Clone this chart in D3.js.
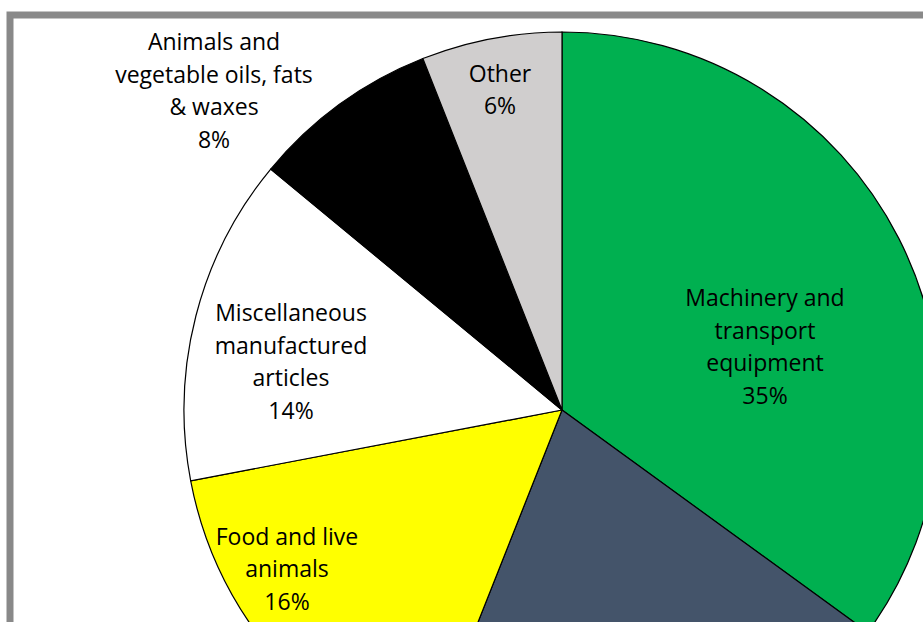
<!DOCTYPE html>
<html>
<head>
<meta charset="utf-8">
<script src="https://cdn.jsdelivr.net/npm/d3@7"></script>
<style>
  body { margin: 0; background: #fff; }
  svg { display: block; }
</style>
</head>
<body>
<svg id="chart" width="923" height="622"></svg>
<script>
// slice data, clockwise from 12 o'clock
var categories = [
  "Machinery and transport equipment",
  "Manufactured goods",
  "Food and live animals",
  "Miscellaneous manufactured articles",
  "Animals and vegetable oils, fats & waxes",
  "Other"
];
var shares = [35, 21, 16, 14, 8, 6];
// the 21% slice's label falls below the visible area, so none is drawn
var labelLines = [
  ["Machinery and", "transport", "equipment"],
  null,
  ["Food and live", "animals"],
  ["Miscellaneous", "manufactured", "articles"],
  ["Animals and", "vegetable oils, fats", "& waxes"],
  ["Other"]
];
var colors = ["#00b050", "#44546a", "#ffff00", "#ffffff", "#000000", "#d0cece"];

// label block centres, relative to pie centre
var labelPos = [
  [203, -63], null, [-275, 159], [-271, -48], [-348, -319], [-62, -320]
];

var svg = d3.select("#chart"),
  cx = 562, cy = 410, radius = 378;

svg.append("rect")
  .attr("x", 10).attr("y", 15)
  .attr("width", 1000).attr("height", 1000)
  .attr("fill", "#fff")
  .attr("stroke", "#898989")
  .attr("stroke-width", 7);

var data = categories.map(function (c, i) {
  return { name: c, value: shares[i], lines: labelLines[i], color: colors[i], pos: labelPos[i] };
});

var pie = d3.pie().sort(null).value(function (d) { return d.value; });
var arc = d3.arc().innerRadius(0).outerRadius(radius);

var g = svg.append("g").attr("transform", "translate(" + cx + "," + cy + ")");

g.selectAll("path")
  .data(pie(data))
  .enter().append("path")
  .attr("d", arc)
  .attr("fill", function (d) { return d.data.color; })
  .attr("stroke", "#000")
  .attr("stroke-width", 1.2);

var lineH = 32.5;
var labels = g.selectAll(".lbl")
  .data(pie(data).filter(function (d) { return d.data.lines; }))
  .enter().append("text")
  .attr("class", "lbl")
  .attr("text-anchor", "middle")
  .style("font-family", "'Open Sans', sans-serif")
  .style("font-size", "23px")
  .attr("fill", "#000");

labels.each(function (d) {
  var t = d3.select(this);
  var lines = d.data.lines.concat([d.data.value + "%"]);
  var y0 = d.data.pos[1] - (lines.length - 1) * lineH / 2 + 8;
  lines.forEach(function (l, i) {
    t.append("tspan")
      .attr("x", d.data.pos[0])
      .attr("y", y0 + i * lineH)
      .text(l);
  });
});
</script>
</body>
</html>
